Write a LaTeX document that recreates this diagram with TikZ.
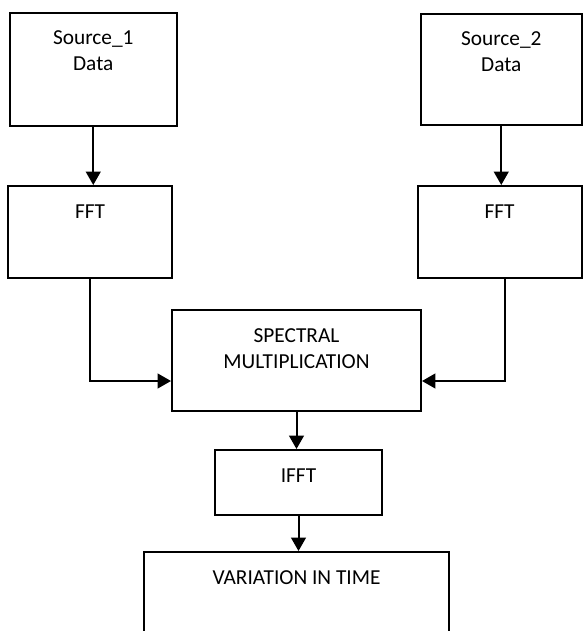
\documentclass[tikz,border=0pt]{standalone}
\usepackage{fontspec}
\setmainfont{Carlito}
\usetikzlibrary{arrows.meta, positioning, calc}

\tikzset{
    blk/.style args={#1/#2}{draw, line width=1.5pt, minimum width=#1, minimum height=#2, inner sep=0pt},
    boxfont/.style={font=\fontsize{16pt}{19.5pt}\selectfont},
    txt/.style={label={[anchor=base, yshift=-24.75pt, boxfont]north:#1}},
    txttwo/.style={label={[anchor=base, yshift=-44.25pt, align=center, boxfont]north:#1}},
    flow/.style={line width=1.5pt, -{Triangle[width=11pt,length=10pt]}}
}

\begin{document}
\begin{tikzpicture}[x=0.75pt, y=-0.75pt]
    % Page
    \fill[white] (0,0) rectangle (583,631);
    \useasboundingbox (0,0) rectangle (583,631);

    % Inputs
    \node[blk=125.6pt/84.75pt, txttwo={Source\_1\\Data}] (src1) at (93.25,69.5) {};
    \node[blk=120.4pt/83.25pt, txttwo={Source\_2\\Data}] (src2) at (501.25,69.5) {};

    % Transforms
    \node[blk=123pt/69pt, txt={FFT}] (fft1) at (90,232) {};
    \node[blk=123pt/69pt, txt={FFT}] (fft2) at (499.5,232) {};

    % Product and inverse
    \node[blk=186.75pt/75.75pt, txttwo={SPECTRAL\\MULTIPLICATION}] (spec) at (296.5,360.5) {};
    \node[blk=125.25pt/48.75pt, txt={IFFT}] (ifft) at (298.5,482.5) {};
    \node[blk=228.75pt/81pt, txt={VARIATION IN TIME}] (vartime) at (296.5,606) {};

    % Connectors
    \draw[flow] (src1.south) -- (src1.south |- fft1.north);
    \draw[flow] (src2.south) -- (src2.south |- fft2.north);
    \draw[flow] (fft1.south) |- ($(spec.west)+(0,20.5)$);
    \draw[flow] ($(fft2.south)+(5,0)$) |- ($(spec.east)+(0,20.5)$);
    \draw[flow] (spec.south) -- (spec.south |- ifft.north);
    \draw[flow] (ifft.south) -- (ifft.south |- vartime.north);
\end{tikzpicture}
\end{document}
